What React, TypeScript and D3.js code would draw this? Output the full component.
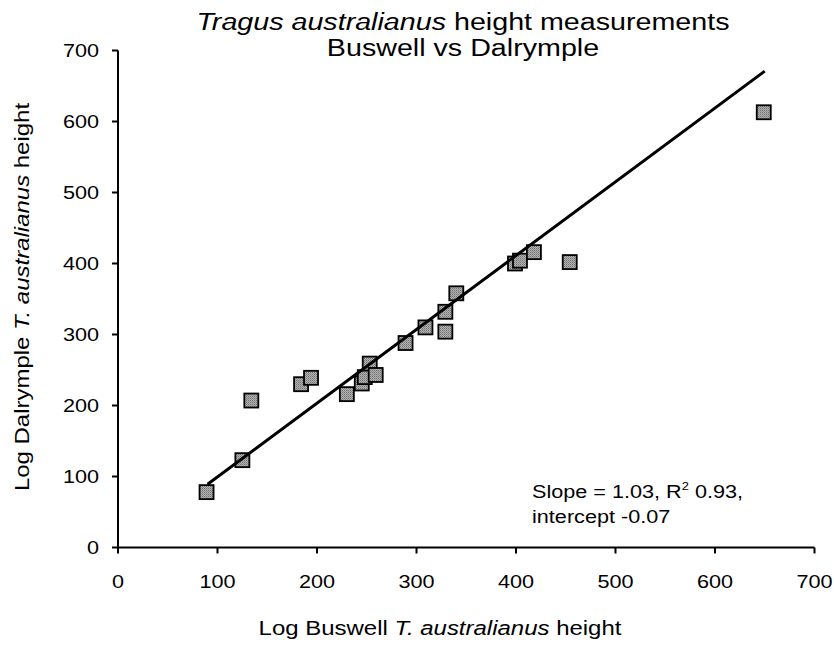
import React from 'react';
import * as d3 from 'd3';

// Buswell (x) vs Dalrymple (y)
const buswell = [89, 125, 134, 184, 194, 230, 245, 248, 253, 259, 289, 309, 329, 329, 340, 399, 404, 418, 454, 649];
const dalrymple = [78, 123, 207, 230, 239, 216, 231, 240, 259, 243, 288, 310, 304, 332, 358, 400, 404, 416, 402, 613];

// fitted line end points
const fitX = [90, 650];
const fitY = [89, 671];

const xTicks = [0, 100, 200, 300, 400, 500, 600, 700];
const yTicks = [0, 100, 200, 300, 400, 500, 600, 700];

const FONT = "'Liberation Sans', Arial, sans-serif";
const SX = 1.17; // the reference text is a little stretched sideways

const App: React.FC = () => {
  const width = 834;
  const height = 657;
  const margin = { left: 118, right: 19.5, top: 50.5, bottom: 109.5 };

  const x = d3.scaleLinear().domain([0, 700]).range([margin.left, width - margin.right]);
  const y = d3.scaleLinear().domain([0, 700]).range([height - margin.bottom, margin.top]);

  const line = d3.line<number>()
    .x((_, i) => x(fitX[i]))
    .y(d => y(d));

  const points = buswell.map((b, i) => ({ bx: b, dy: dalrymple[i] }));
  const sq = 14;

  const txt = (tx: number, ty: number, anchor: string, size: number, children: React.ReactNode, rotate = 0) => (
    <text
      transform={`translate(${tx},${ty})${rotate ? ` rotate(${rotate})` : ''} scale(${SX},1)`}
      textAnchor={anchor}
      fontSize={size}
      fontFamily={FONT}
      fill="#000"
    >
      {children}
    </text>
  );

  return (
    <svg width={width} height={height} style={{ position: 'absolute', left: 0, top: 0, background: '#fff' }}>
      <defs>
        <pattern id="dither" width="2" height="2" patternUnits="userSpaceOnUse">
          <rect width="2" height="2" fill="#b4b4b4" />
          <rect width="1" height="1" fill="#6e6e6e" />
          <rect x="1" y="1" width="1" height="1" fill="#8c8c8c" />
        </pattern>
      </defs>
      <rect width={width} height={height} fill="#fff" />

      {/* title */}
      {txt(463, 30, 'middle', 24.5, <>
        <tspan fontStyle="italic">Tragus australianus</tspan> height measurements
      </>)}
      {txt(463, 56, 'middle', 24.5, 'Buswell vs Dalrymple')}

      {/* axes */}
      <line x1={x(0)} x2={x(0)} y1={y(0)} y2={y(700)} stroke="#000" strokeWidth={2} />
      <line x1={x(0)} x2={x(700)} y1={y(0)} y2={y(0)} stroke="#000" strokeWidth={2} />
      {yTicks.map(t => (
        <g key={'y' + t}>
          <line x1={x(0) - 6} x2={x(0)} y1={y(t)} y2={y(t)} stroke="#000" strokeWidth={2} />
          {txt(x(0) - 19, y(t) + 6.5, 'end', 18.5, t)}
        </g>
      ))}
      {xTicks.map(t => (
        <g key={'x' + t}>
          <line x1={x(t)} x2={x(t)} y1={y(0)} y2={y(0) + 6} stroke="#000" strokeWidth={2} />
          {txt(x(t), 588, 'middle', 18.5, t)}
        </g>
      ))}

      {/* axis titles */}
      {txt(440, 635, 'middle', 20.5, <>
        Log Buswell <tspan fontStyle="italic">T. australianus</tspan> height
      </>)}
      {txt(29, 297, 'middle', 20.5, <>
        Log Dalrymple <tspan fontStyle="italic">T. australianus</tspan> height
      </>, -90)}

      {/* markers */}
      {points.map((p, i) => (
        <rect
          key={i}
          x={x(p.bx) - sq / 2}
          y={y(p.dy) - sq / 2}
          width={sq}
          height={sq}
          fill="url(#dither)"
          stroke="#000"
          strokeWidth={1.8}
        />
      ))}

      {/* fitted line */}
      <path d={line(fitY) || ''} fill="none" stroke="#000" strokeWidth={3} />

      {/* annotation */}
      {txt(532, 498, 'start', 18.5, <>
        Slope = 1.03, R<tspan fontSize={11} dy={-8}>2</tspan><tspan dy={8}> 0.93,</tspan>
      </>)}
      {txt(532, 523, 'start', 18.5, 'intercept -0.07')}
    </svg>
  );
};

export default App;
